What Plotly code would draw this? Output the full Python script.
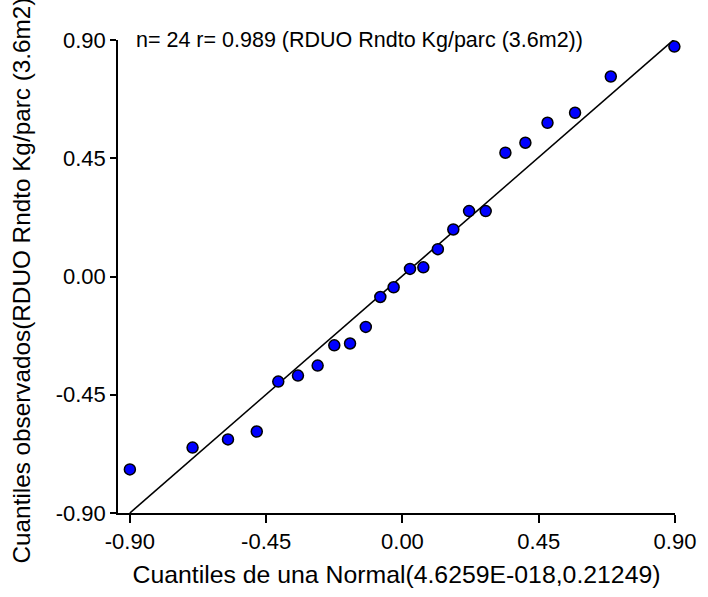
import plotly.graph_objects as go

# Normal quantiles (x) and observed quantiles (y)
normal_q = [-0.900, -0.693, -0.576, -0.481, -0.410, -0.345, -0.280, -0.225,
            -0.173, -0.121, -0.073, -0.029, 0.025, 0.069, 0.117, 0.168,
            0.220, 0.275, 0.340, 0.406, 0.479, 0.570, 0.688, 0.898]
observed_q = [-0.734, -0.651, -0.620, -0.590, -0.400, -0.377, -0.339, -0.262,
              -0.255, -0.192, -0.078, -0.041, 0.029, 0.035, 0.104, 0.179,
              0.249, 0.249, 0.471, 0.509, 0.585, 0.623, 0.761, 0.875]

# Reference line endpoints
line_x = [-0.90, 0.90]
line_y = [-0.90, 0.905]

tick_vals = [-0.90, -0.45, 0.00, 0.45, 0.90]
tick_text = ["-0.90", "-0.45", "0.00", "0.45", "0.90"]

title_text = "n= 24 r= 0.989 (RDUO Rndto Kg/parc (3.6m2))"
x_title = "Cuantiles de una Normal(4.6259E-018,0.21249)"
y_title = "Cuantiles observados(RDUO Rndto Kg/parc (3.6m2))"

font_family = "Liberation Sans, Arial, sans-serif"

fig = go.Figure()
fig.add_trace(go.Scatter(
    x=line_x, y=line_y, mode="lines",
    line=dict(color="black", width=1.6),
    showlegend=False, hoverinfo="skip", cliponaxis=False,
))
fig.add_trace(go.Scatter(
    x=normal_q, y=observed_q, mode="markers",
    marker=dict(color="#0000FF", size=11, line=dict(color="black", width=1.5)),
    showlegend=False, cliponaxis=False,
))

fig.add_annotation(
    x=-0.887, y=0.90, xref="x", yref="y", text=title_text,
    showarrow=False, xanchor="left", yanchor="middle",
    font=dict(family=font_family, size=21.5, color="black"),
)

fig.update_layout(
    width=708, height=597,
    margin=dict(l=118, r=28, t=40, b=84),
    paper_bgcolor="white", plot_bgcolor="white",
    font=dict(family=font_family, color="black"),
    xaxis=dict(
        range=[-0.9392, 0.90], tickvals=tick_vals, ticktext=tick_text,
        showgrid=False, zeroline=False, showline=True, linecolor="black",
        linewidth=1.5, ticks="outside", ticklen=8, tickwidth=1.5,
        tickcolor="black", tickfont=dict(size=22, family=font_family),
        title=dict(text=x_title, font=dict(size=24.8, family=font_family), standoff=12),
    ),
    yaxis=dict(
        range=[-0.90, 0.90], tickvals=tick_vals, ticktext=tick_text,
        showgrid=False, zeroline=False, showline=True, linecolor="black",
        linewidth=1.5, ticks="outside", ticklen=6, tickwidth=1.5,
        tickcolor="black", tickfont=dict(size=22, family=font_family),
        title=dict(text=y_title, font=dict(size=24.3, family=font_family), standoff=18),
    ),
)

fig.write_html("out.html")
